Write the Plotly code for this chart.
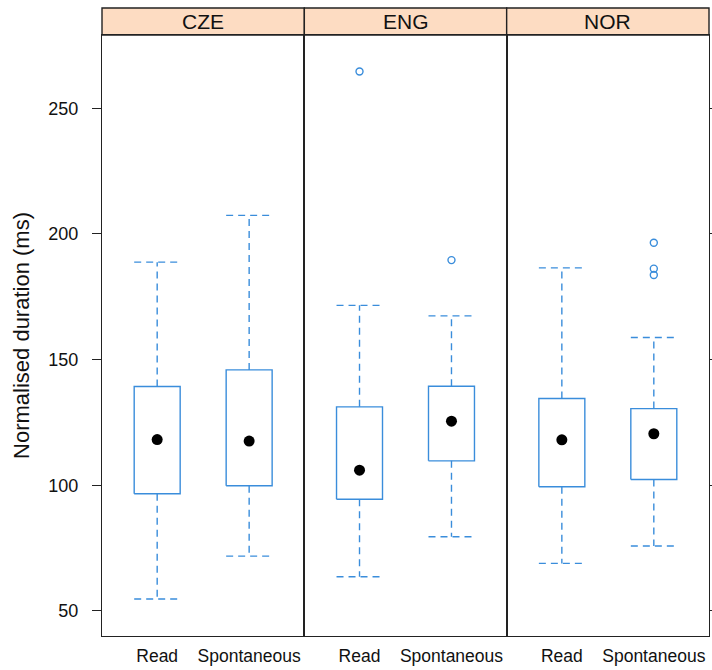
import plotly.graph_objects as go
from plotly.subplots import make_subplots

# ---- data ----
groups = ["CZE", "ENG", "NOR"]
conditions = ["Read", "Spontaneous"]

# per group: [Read, Spontaneous]
whisker_low = {"CZE": [54.7, 71.8], "ENG": [63.6, 79.5], "NOR": [68.9, 75.8]}
q1 = {"CZE": [96.6, 99.8], "ENG": [94.4, 109.7], "NOR": [99.4, 102.3]}
median = {"CZE": [118.2, 117.6], "ENG": [106.0, 125.5], "NOR": [118.1, 120.5]}
q3 = {"CZE": [139.3, 145.9], "ENG": [131.2, 139.4], "NOR": [134.5, 130.5]}
whisker_high = {"CZE": [188.8, 207.4], "ENG": [171.6, 167.4], "NOR": [186.5, 158.8]}
outliers = {
    "CZE": [[], []],
    "ENG": [[264.7], [189.6]],
    "NOR": [[], [196.5, 186.2, 183.7]],
}

y_ticks = [50, 100, 150, 200, 250]
y_title = "Normalised duration (ms)"

BLUE = "#3a8ddb"
STRIP = "#fddcc2"
AXIS = "#222222"
FONT = "Liberation Sans, Arial, sans-serif"
HALF = 0.25  # half box width in category units
DASH = "7px,5px"

fig = make_subplots(rows=1, cols=3, shared_yaxes=True, horizontal_spacing=0)

for gi, g in enumerate(groups):
    col = gi + 1
    for ci, cond in enumerate(conditions):
        x = ci + 1
        lo, a, m, b, hi = (whisker_low[g][ci], q1[g][ci], median[g][ci],
                           q3[g][ci], whisker_high[g][ci])
        # box outline
        fig.add_trace(go.Scatter(
            x=[x - HALF, x + HALF, x + HALF, x - HALF, x - HALF],
            y=[a, a, b, b, a], mode="lines",
            line=dict(color=BLUE, width=1.4), showlegend=False,
            hoverinfo="skip"), row=1, col=col)
        # whiskers (dashed) with caps
        fig.add_trace(go.Scatter(
            x=[x, x, None, x - HALF, x + HALF, None, x, x, None, x - HALF, x + HALF],
            y=[b, hi, None, hi, hi, None, a, lo, None, lo, lo], mode="lines",
            line=dict(color=BLUE, width=1.4, dash=DASH), showlegend=False,
            hoverinfo="skip"), row=1, col=col)
        # median dot
        fig.add_trace(go.Scatter(
            x=[x], y=[m], mode="markers",
            marker=dict(color="black", size=11), showlegend=False),
            row=1, col=col)
        # outliers
        if outliers[g][ci]:
            fig.add_trace(go.Scatter(
                x=[x] * len(outliers[g][ci]), y=outliers[g][ci], mode="markers",
                marker=dict(symbol="circle-open", color=BLUE, size=7,
                            line=dict(width=1.4, color=BLUE)),
                showlegend=False), row=1, col=col)

PANEL_TOP = 0.957

for i in range(1, 4):
    xa = "xaxis" if i == 1 else f"xaxis{i}"
    fig.layout[xa].update(
        range=[0.4, 2.6], tickvals=[1, 2], ticktext=conditions,
        ticks="", showline=True, mirror=True, linecolor=AXIS, linewidth=1.4,
        showgrid=False, zeroline=False, ticklabelstandoff=4, automargin=False,
        tickfont=dict(family=FONT, size=17.5, color="#111"))
    ya = "yaxis" if i == 1 else f"yaxis{i}"
    fig.layout[ya].update(
        range=[40.0, 279.2], domain=[0, PANEL_TOP], automargin=False,
        showline=True, mirror=True, linecolor=AXIS, linewidth=1.4,
        showgrid=False, zeroline=False, tickvals=y_ticks)

fig.layout.yaxis.update(
    ticks="outside", ticklen=9, tickcolor=AXIS, tickwidth=1.4,
    ticklabelstandoff=10,
    tickfont=dict(family=FONT, size=18, color="#111"),
    title=dict(text=y_title, font=dict(family=FONT, size=22, color="#111"),
               standoff=12))
fig.layout.yaxis3.update(
    side="right", ticks="outside", ticklen=9, tickcolor=AXIS, tickwidth=1.4,
    showticklabels=False)

# strips
for gi, g in enumerate(groups):
    x0, x1 = gi / 3, (gi + 1) / 3
    fig.add_shape(type="rect", xref="paper", yref="paper",
                  x0=x0, x1=x1, y0=PANEL_TOP, y1=1.0,
                  fillcolor=STRIP, line=dict(color=AXIS, width=1.4), layer="below")
    fig.add_annotation(xref="paper", yref="paper", x=(x0 + x1) / 2,
                       y=(PANEL_TOP + 1) / 2, text=g, showarrow=False,
                       font=dict(family=FONT, size=21, color="#111"),
                       yanchor="middle", xanchor="center")

fig.update_layout(
    width=712, height=670,
    margin=dict(l=102, r=3, t=8, b=34, autoexpand=False),
    plot_bgcolor="white", paper_bgcolor="white",
    showlegend=False,
)

fig.write_html(
    "out.html",
    config={"displayModeBar": False},
    post_script="document.body.style.margin='0';document.body.style.overflow='hidden';",
)
